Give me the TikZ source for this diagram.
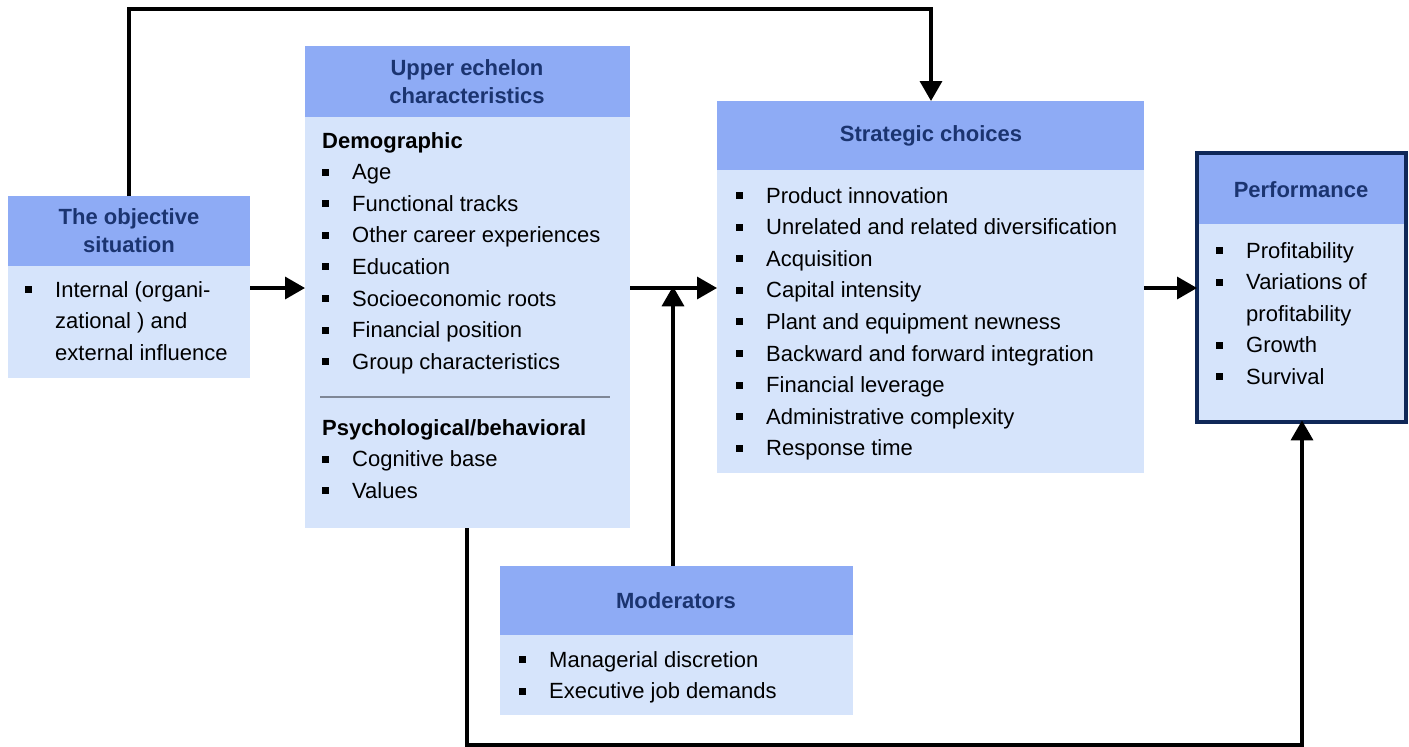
\documentclass[tikz,border=0pt]{standalone}
\usepackage{fontspec}
\setmainfont{Liberation Sans}
\usetikzlibrary{arrows.meta}

\definecolor{headfill}{HTML}{8EABF5}
\definecolor{bodyfill}{HTML}{D6E4FB}
\definecolor{titlecol}{HTML}{1B3470}
\definecolor{perfborder}{HTML}{0F2858}
\definecolor{rulegray}{HTML}{7F8796}

% square list marker followed by the item text
\newcommand{\sqitem}{\makebox[30pt][l]{\rule[4pt]{7pt}{7pt}}}
\newcommand{\listfont}{\fontsize{22}{31.6}\selectfont}

\tikzset{
  headbox/.style={fill=headfill, draw=none, inner sep=0pt, anchor=north west},
  bodybox/.style={fill=bodyfill, draw=none, inner sep=0pt, anchor=north west},
  title/.style={font=\fontsize{22}{28}\selectfont\bfseries, text=titlecol, align=center, inner sep=0pt},
  itemlist/.style={anchor=base west, inner sep=0pt, font=\listfont},
  flow/.style={line width=3.5pt, -{Triangle[length=20pt,width=22pt]}},
  plainline/.style={line width=3.5pt},
}

\begin{document}
\begin{tikzpicture}[x=1pt,y=-1pt]
\useasboundingbox (0,0) rectangle (1409,747);
\fill[white] (0,0) rectangle (1409,747);

% ---- The objective situation
\node[bodybox, minimum width=242pt, minimum height=112pt] (obj-body) at (8,266) {};
\node[headbox, minimum width=242pt, minimum height=70pt] (obj-head) at (8,196) {};
\node[title] (obj-title) at (129,231) {The objective\\situation};
\node[itemlist] (obj-list) at (25,297) {\begin{tabular}[t]{@{}l@{}}
\sqitem Internal (organi-\\
\hspace{30pt}zational ) and\\
\hspace{30pt}external influence
\end{tabular}};

% ---- Upper echelon characteristics
\node[bodybox, minimum width=325pt, minimum height=411pt] (ue-body) at (305,117) {};
\node[headbox, minimum width=325pt, minimum height=71pt] (ue-head) at (305,46) {};
\node[title] (ue-title) at (467,82) {Upper echelon\\characteristics};
\node[itemlist] (ue-demo) at (322,148) {\begin{tabular}[t]{@{}l@{}}
\textbf{Demographic}\\
\sqitem Age\\
\sqitem Functional tracks\\
\sqitem Other career experiences\\
\sqitem Education\\
\sqitem Socioeconomic roots\\
\sqitem Financial position\\
\sqitem Group characteristics
\end{tabular}};
\draw[rulegray, line width=1.5pt] (320,397) -- (610,397);
\node[itemlist] (ue-psych) at (322,435) {\begin{tabular}[t]{@{}l@{}}
\textbf{Psychological/behavioral}\\
\sqitem Cognitive base\\
\sqitem Values
\end{tabular}};

% ---- Strategic choices
\node[bodybox, minimum width=427pt, minimum height=303pt] (sc-body) at (717,170) {};
\node[headbox, minimum width=427pt, minimum height=69pt] (sc-head) at (717,101) {};
\node[title] (sc-title) at (931,136) {Strategic choices};
\node[itemlist] (sc-list) at (736,203) {\begin{tabular}[t]{@{}l@{}}
\sqitem Product innovation\\
\sqitem Unrelated and related diversification\\
\sqitem Acquisition\\
\sqitem Capital intensity\\
\sqitem Plant and equipment newness\\
\sqitem Backward and forward integration\\
\sqitem Financial leverage\\
\sqitem Administrative complexity\\
\sqitem Response time
\end{tabular}};

% ---- Performance
\node[bodybox, minimum width=209pt, minimum height=198pt] (pf-body) at (1197,224) {};
\node[headbox, minimum width=209pt, minimum height=71pt] (pf-head) at (1197,153) {};
\draw[perfborder, line width=4pt] (pf-head.north west) rectangle (pf-body.south east);
\node[title] (pf-title) at (1301,190) {Performance};
\node[itemlist] (pf-list) at (1216,258) {\begin{tabular}[t]{@{}l@{}}
\sqitem Profitability\\
\sqitem Variations of\\
\hspace{30pt}profitability\\
\sqitem Growth\\
\sqitem Survival
\end{tabular}};

% ---- Moderators
\node[bodybox, minimum width=353pt, minimum height=80pt] (md-body) at (500,635) {};
\node[headbox, minimum width=353pt, minimum height=69pt] (md-head) at (500,566) {};
\node[title] (md-title) at (676,601) {Moderators};
\node[itemlist] (md-list) at (519,667) {\begin{tabular}[t]{@{}l@{}}
\sqitem Managerial discretion\\
\sqitem Executive job demands
\end{tabular}};

% ---- connectors
\coordinate (topleft) at (129,9);
\coordinate (topright) at (931,9);
\coordinate (midjoin) at (673,288);
\coordinate (botleft) at (467,745);
\coordinate (botright) at (1302,745);

\draw[flow] (obj-head.north west -| topleft) -- (topleft) -- (topright) -- (sc-head.north west -| topright);
\draw[flow] (obj-body.east |- midjoin) -- (ue-body.west |- midjoin);
\draw[flow] (ue-body.east |- midjoin) -- (sc-body.west |- midjoin);
\draw[flow] (sc-body.east |- midjoin) -- (pf-body.west |- midjoin);
\draw[flow] (md-head.north -| midjoin) -- ([yshift=1.7pt]midjoin);
\draw[flow] (ue-body.south -| botleft) -- (botleft) -- (botright) -- ([yshift=2pt]pf-body.south -| botright);
\end{tikzpicture}
\end{document}
